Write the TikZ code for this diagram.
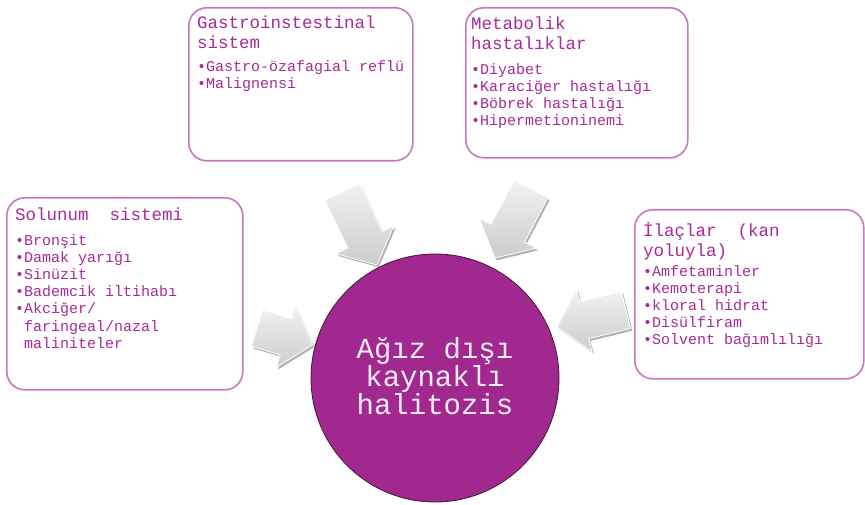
\documentclass[tikz,border=0pt]{standalone}
\usepackage{fontspec}
\newfontfamily\lmono{Liberation Mono}
\definecolor{txtpurple}{RGB}{168,42,150}
\definecolor{boxline}{RGB}{200,120,195}
\definecolor{circfill}{RGB}{160,40,142}
\definecolor{circline}{RGB}{70,20,60}
\definecolor{circtext}{RGB}{248,235,248}
\newcommand\grayarrow[4]{%
  \begin{scope}[shift={(#1+1.8,#2-2.2)}, rotate=#3]
    \fill[gray!60] (0,-19) -- ({#4-28},-19) -- ({#4-28},-32) -- (#4,0) -- ({#4-28},32) -- ({#4-28},19) -- (0,19) -- cycle;
  \end{scope}
  \begin{scope}[shift={(#1,#2)}, rotate=#3]
    \shade[top color=gray!10, bottom color=gray!40, draw=white, line width=0.8pt]
      (0,-19) -- ({#4-28},-19) -- ({#4-28},-32) -- (#4,0) -- ({#4-28},32) -- ({#4-28},19) -- (0,19) -- cycle;
  \end{scope}}
\begin{document}
\begin{tikzpicture}[x=1pt,y=1pt,
  card/.style={draw=boxline, line width=1.6pt, rounded corners=18pt, anchor=north west, inner sep=0pt, fill=white},
  ttl/.style={anchor=north west, inner sep=0pt, align=left, text=txtpurple, font=\lmono\fontsize{17.5}{20}\selectfont},
  itm/.style={anchor=north west, inner sep=0pt, align=left, text=txtpurple, font=\lmono\fontsize{15}{17.2}\selectfont}]
\useasboundingbox (0,0) rectangle (865,-505);
\fill[white] (0,0) rectangle (865,-505);

% boxes
\node[card, minimum width=236pt, minimum height=192pt] (solbox) at (6,-197) {};
\node[card, minimum width=224pt, minimum height=153pt] (gasbox) at (188,-7) {};
\node[card, minimum width=222pt, minimum height=150pt] (metbox) at (465,-7) {};
\node[card, minimum width=229pt, minimum height=169pt] (ilabox) at (634,-209) {};

% texts
\node[ttl] (soltitle) at (15,-208) {Solunum\ \ sistemi};
\node[itm] (solitems) at (15,-234) {•Bronşit\\•Damak yarığı\\•Sinüzit\\•Bademcik iltihabı\\•Akciğer/\\\ faringeal/nazal\\\ maliniteler};

\node[ttl] (gastitle) at (197,-16) {Gastroinstestinal\\sistem};
\node[itm] (gasitems) at (197,-60) {•Gastro-özafagial reflü\\•Malignensi};

\node[ttl] (mettitle) at (471,-17) {Metabolik\\hastalıklar};
\node[itm] (metitems) at (471,-63) {•Diyabet\\•Karaciğer hastalığı\\•Böbrek hastalığı\\•Hipermetioninemi};

\node[ttl] (ilatitle) at (643,-222) {İlaçlar\ \ (kan\\yoluyla)};
\node[itm] (ilaitems) at (643,-265) {•Amfetaminler\\•Kemoterapi\\•kloral hidrat\\•Disülfiram\\•Solvent bağımlılığı};

% arrows
\grayarrow{342}{-192}{-64.4}{81}
\grayarrow{531}{-189}{-117.6}{78}
\grayarrow{257}{-328}{-16.9}{58}
\grayarrow{626}{-310}{193.8}{71}

% hub
\node[circle, fill=circfill, draw=circline, line width=0.8pt, minimum size=248pt, inner sep=0pt] (hub) at (435,-378) {};
\node[align=center, text=circtext, inner sep=0pt, font=\lmono\fontsize{29}{27}\selectfont] (hubtext) at (435,-376) {Ağız dışı\\kaynaklı\\halitozis};
\end{tikzpicture}
\end{document}
